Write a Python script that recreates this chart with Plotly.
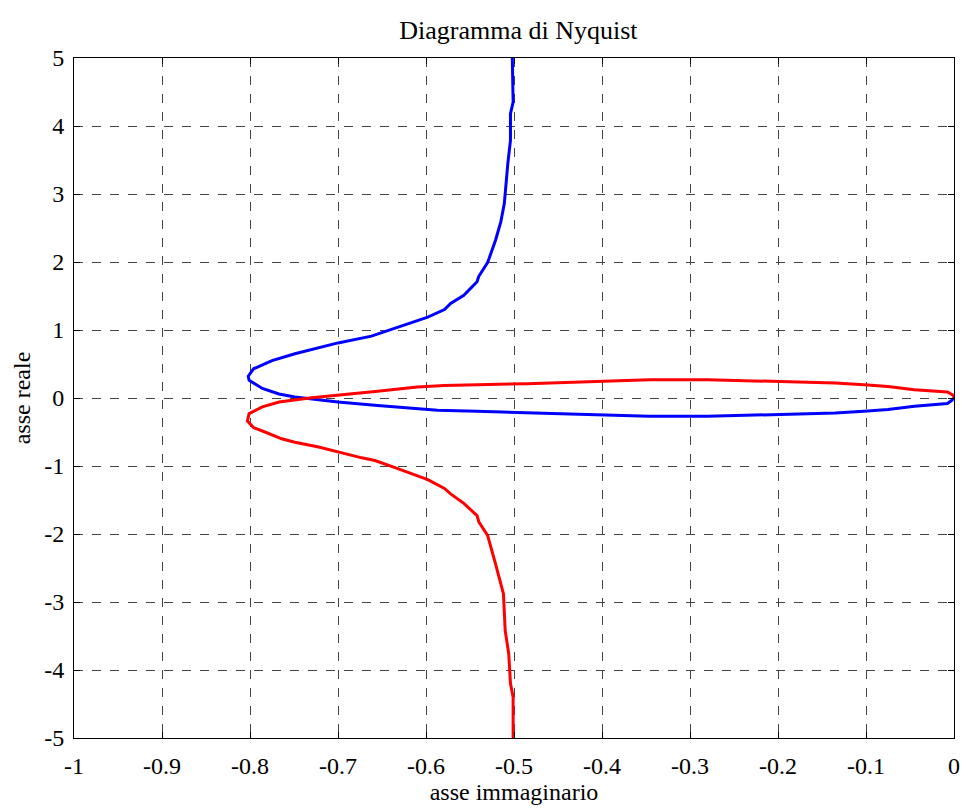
import plotly.graph_objects as go

# Blue branch (from top, y=+5, down to the origin)
blue_x = [-0.502, -0.501, -0.504, -0.504, -0.507, -0.509, -0.511, -0.515, -0.521, -0.530,
          -0.540, -0.542, -0.557, -0.572, -0.579, -0.598, -0.621, -0.647, -0.662, -0.700,
          -0.726, -0.749, -0.775, -0.796, -0.802, -0.801, -0.786, -0.767, -0.749, -0.726,
          -0.700, -0.655, -0.610, -0.587, -0.542, -0.485, -0.406, -0.346, -0.28, -0.218,
          -0.135, -0.098, -0.075, -0.045, -0.019, -0.0075, -0.002, 0.0, 0.0]
blue_y = [5.05, 4.35, 4.18, 3.79, 3.45, 3.20, 2.86, 2.59, 2.32, 1.99,
          1.79, 1.71, 1.51, 1.39, 1.30, 1.19, 1.09, 0.97, 0.91, 0.81,
          0.73, 0.65, 0.55, 0.43, 0.32, 0.26, 0.14, 0.06, 0.015, -0.02,
          -0.06, -0.11, -0.16, -0.18, -0.195, -0.215, -0.245, -0.27, -0.27, -0.245,
          -0.22, -0.19, -0.17, -0.12, -0.09, -0.08, -0.03, -0.01, 0.0]

# Red branch (from bottom, y=-5, up to the origin)
red_x = [-0.501, -0.501, -0.504, -0.506, -0.510, -0.512, -0.521, -0.530, -0.540, -0.542,
         -0.557, -0.572, -0.579, -0.598, -0.636, -0.658, -0.673, -0.700, -0.722, -0.749,
         -0.764, -0.783, -0.796, -0.803, -0.801, -0.786, -0.767, -0.730, -0.700, -0.655,
         -0.610, -0.579, -0.485, -0.406, -0.346, -0.28, -0.218, -0.135, -0.098, -0.075,
         -0.045, -0.019, -0.0075, -0.002, 0.0, 0.0]
red_y = [-5.05, -4.40, -4.20, -3.76, -3.42, -2.88, -2.44, -2.02, -1.82, -1.73,
         -1.55, -1.41, -1.33, -1.20, -1.02, -0.92, -0.88, -0.79, -0.72, -0.65,
         -0.60, -0.50, -0.435, -0.34, -0.23, -0.13, -0.06, 0.005, 0.04, 0.10,
         0.16, 0.185, 0.21, 0.245, 0.27, 0.27, 0.245, 0.22, 0.19, 0.17,
         0.12, 0.10, 0.09, 0.05, 0.02, 0.0]

x_ticks = [-1, -0.9, -0.8, -0.7, -0.6, -0.5, -0.4, -0.3, -0.2, -0.1, 0]
x_labels = ["-1", "-0.9", "-0.8", "-0.7", "-0.6", "-0.5", "-0.4", "-0.3", "-0.2", "-0.1", "0"]
y_ticks = [-5, -4, -3, -2, -1, 0, 1, 2, 3, 4, 5]
y_labels = ["-5", "-4", "-3", "-2", "-1", "0", "1", "2", "3", "4", "5"]

font_family = "Liberation Serif, Times New Roman, serif"
fs = 24

fig = go.Figure()
fig.add_trace(go.Scatter(x=blue_x, y=blue_y, mode="lines",
                         line=dict(color="#0000FF", width=3), showlegend=False))
fig.add_trace(go.Scatter(x=red_x, y=red_y, mode="lines",
                         line=dict(color="#FF0000", width=3), showlegend=False))

axis_common = dict(
    showline=True, linecolor="black", linewidth=1, mirror="ticks",
    ticks="inside", ticklen=6, tickcolor="black",
    showgrid=True, gridcolor="#444444", gridwidth=1, griddash="dash",
    zeroline=False,
    tickfont=dict(family=font_family, size=fs, color="black"),
)

fig.update_layout(
    width=969, height=812,
    margin=dict(l=74, r=9, t=58, b=74),
    paper_bgcolor="white", plot_bgcolor="white",
    title=dict(text="Diagramma di Nyquist", x=0.535, xanchor="center", y=0.963, yanchor="middle",
               font=dict(family=font_family, size=26, color="black")),
    xaxis=dict(range=[-1, 0], tickvals=x_ticks, ticktext=x_labels, ticklabelstandoff=6,
               title=dict(text="asse immaginario", standoff=4,
                          font=dict(family=font_family, size=fs, color="black")),
               **axis_common),
    yaxis=dict(range=[-5, 5], tickvals=y_ticks, ticktext=y_labels, ticklabelstandoff=4,
               title=dict(text="asse reale", standoff=6,
                          font=dict(family=font_family, size=fs, color="black")),
               **axis_common),
)

fig.write_html("out.html")
